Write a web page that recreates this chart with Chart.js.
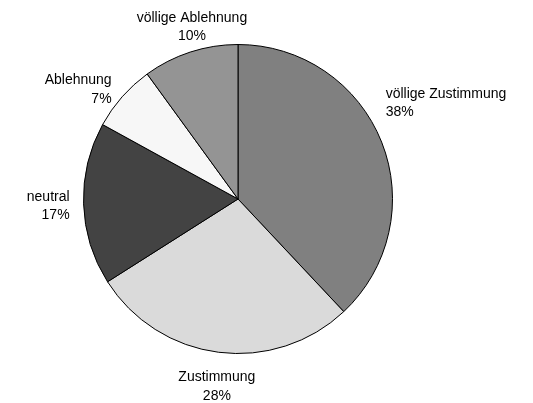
<!DOCTYPE html>
<html>
<head>
<meta charset="utf-8">
<script src="https://cdn.jsdelivr.net/npm/chart.js@4"></script>
<style>
  html, body { margin: 0; padding: 0; background: #ffffff; }
  #wrap { width: 533px; height: 403px; }
</style>
</head>
<body>
<div id="wrap"><canvas id="c" width="533" height="403"></canvas></div>
<script>
const categories = ['völlige Zustimmung', 'Zustimmung', 'neutral', 'Ablehnung', 'völlige Ablehnung'];
const values = [38, 28, 17, 7, 10];
const sliceColors = ['#808080', '#dadada', '#434343', '#f7f7f7', '#949494'];

const outerLabels = {
  id: 'outerLabels',
  afterDatasetsDraw(chart, args, opts) {
    const ctx = chart.ctx;
    const meta = chart.getDatasetMeta(0);
    const total = values.reduce((a, b) => a + b, 0);
    ctx.save();
    ctx.font = '14px "Liberation Sans", Arial, sans-serif';
    ctx.fillStyle = '#000000';
    ctx.textBaseline = 'middle';
    const lh = 18.5;
    meta.data.forEach((arc, i) => {
      const p = arc.getProps(['x', 'y', 'startAngle', 'endAngle', 'outerRadius'], true);
      const mid = (p.startAngle + p.endAngle) / 2;
      const c = Math.cos(mid), s = Math.sin(mid);
      const d = p.outerRadius + opts.gap;
      const nudge = (opts.nudge && opts.nudge[i]) || [0, 0];
      let ax = p.x + c * d + nudge[0];
      let ay = p.y + s * d + nudge[1] + 2;
      const lines = [categories[i], Math.round(values[i] / total * 100) + '%'];
      const h = lines.length * lh;
      let align, cy;
      if (Math.abs(c) < 0.4) {
        align = 'center';
        cy = ay + s * h / 2;
      } else {
        align = c > 0 ? 'left' : 'right';
        cy = ay;
      }
      ctx.textAlign = align;
      lines.forEach((t, k) => {
        ctx.fillText(t, ax, cy - h / 2 + lh / 2 + k * lh);
      });
    });
    ctx.restore();
  }
};

new Chart(document.getElementById('c'), {
  type: 'pie',
  data: {
    labels: categories,
    datasets: [{
      data: values,
      backgroundColor: sliceColors,
      borderColor: '#000000',
      borderWidth: 1,
      hoverOffset: 0
    }]
  },
  options: {
    responsive: false,
    animation: false,
    devicePixelRatio: 1,
    layout: { padding: { left: 83, right: 140, top: 44, bottom: 49 } },
    plugins: {
      legend: { display: false },
      tooltip: { enabled: false },
      outerLabels: { gap: 14, nudge: { 0: [-9, -36], 4: [6, 4] } }
    }
  },
  plugins: [outerLabels]
});
</script>
</body>
</html>
